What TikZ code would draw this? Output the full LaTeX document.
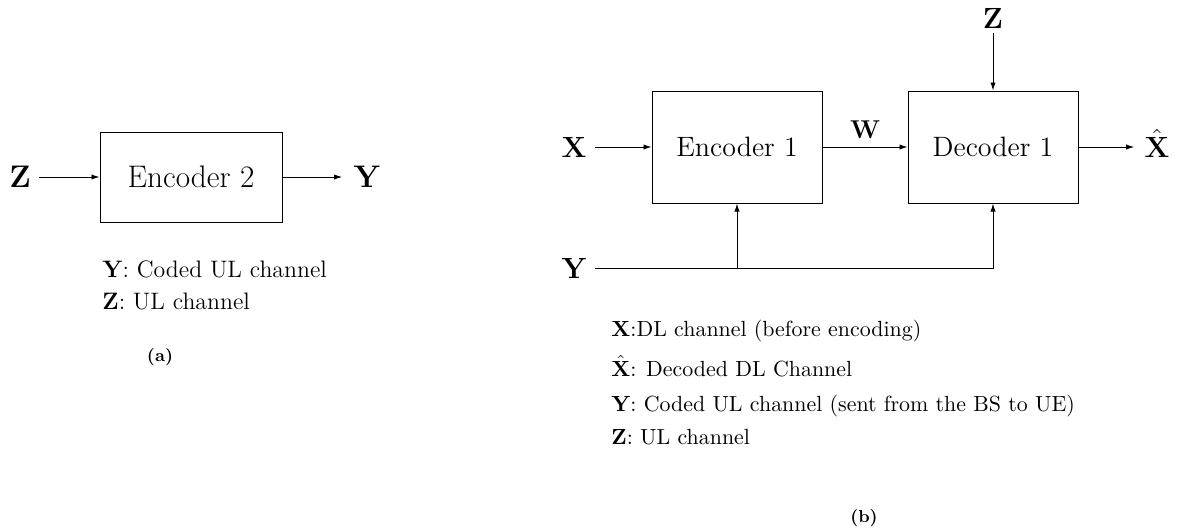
\RequirePackage{fix-cm}
\documentclass[tikz,border=0pt]{standalone}
\usetikzlibrary{arrows.meta}
\tikzset{
  arr/.style={-{Latex[length=4pt,width=2.6pt]}, line width=0.45pt},
  blkA/.style={draw, line width=0.5pt, minimum width=91pt, minimum height=45pt, inner sep=0pt,
    font=\fontsize{15.6}{18}\selectfont},
  blkB/.style={draw, line width=0.5pt, minimum width=85pt, minimum height=56pt, inner sep=0pt,
    font=\fontsize{14}{16}\selectfont},
  lblA/.style={inner sep=4pt, font=\bfseries\fontsize{15.6}{18}\selectfont},
  lblB/.style={inner sep=4.1pt, font=\bfseries\fontsize{14.6}{17}\selectfont},
  legA/.style={inner sep=0pt, anchor=base west, font=\fontsize{11.9}{14}\selectfont},
  legB/.style={inner sep=0pt, anchor=base west, font=\fontsize{10.95}{13}\selectfont},
  capt/.style={inner sep=0pt, font=\bfseries\fontsize{8.7}{10}\selectfont},
}
\begin{document}
\begin{tikzpicture}[x=0.5pt,y=-0.5pt]
\useasboundingbox (0,0) rectangle (1181,531);

% ---------- (a) ----------
\node[blkA] (enc2) at (191,177) {Encoder 2};
\node[lblA] (Zin) at (20,177) {Z};
\node[lblA, inner sep=5.6pt] (Yout) at (367,177) {Y};
\draw[arr] (Zin) -- (enc2);
\draw[arr] (enc2) -- (Yout);
\node[legA] (la1) at (102,277) {\textbf{Y}: Coded UL channel};
\node[legA] (la2) at (102,309) {\textbf{Z}: UL channel};
\node[capt] (capa) at (160,357) {(a)};

% ---------- (b) ----------
\node[blkB] (enc1) at (737,147) {Encoder 1};
\node[blkB] (dec1) at (993,147) {Decoder 1};
\node[lblB] (Xin) at (574,147) {X};
\node[lblB] (Yin) at (574,268) {Y};
\node[lblB, inner sep=2.5pt] (Zt) at (993,18) {Z};
\node[lblB, inner sep=5pt] (Xh) at (1157,147) {$\vphantom{\mathbf{X}}\smash{\hat{\mathbf{X}}}$};
\coordinate (j1) at (737,268);
\draw[arr] (Xin) -- (enc1);
\draw[arr] (enc1) -- node[above, inner sep=4pt, font=\bfseries\fontsize{12.9}{15}\selectfont] (W) {W} (dec1);
\draw[arr] (dec1) -- (Xh);
\draw[arr] (Zt) -- (dec1);
\draw[arr] (Yin) -| (dec1.south);
\draw[arr] (j1) -- (enc1.south);

\node[legB] (lb1) at (611,336) {\textbf{X}:DL channel (before encoding)};
\node[legB] (lb2) at (611,376) {$\hat{\mathbf{X}}$: Decoded DL Channel};
\node[legB] (lb3) at (611,411) {\textbf{Y}: Coded UL channel (sent from the BS to UE)};
\node[legB] (lb4) at (611,444) {\textbf{Z}: UL channel};
\node[capt] (capb) at (864,518) {(b)};
\end{tikzpicture}
\end{document}
